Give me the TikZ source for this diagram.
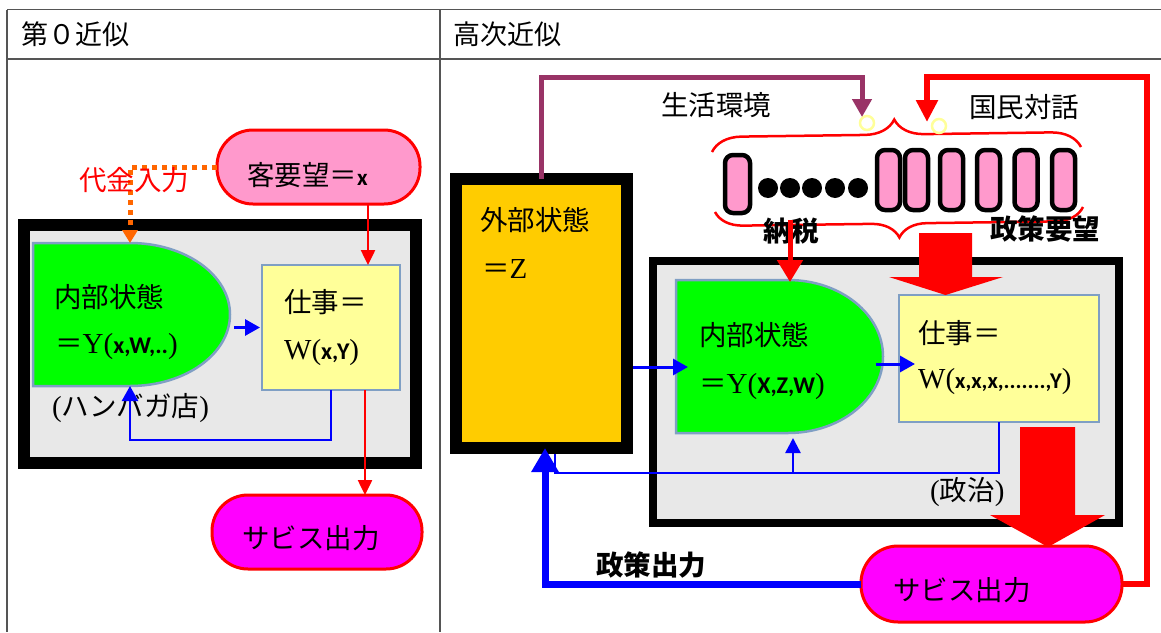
\documentclass[tikz,border=0pt]{standalone}
\usepackage{fontspec}
\setmainfont{Liberation Serif}
\newfontfamily\jp{Noto Sans CJK JP}
\newfontfamily\lser{Liberation Serif}
\newfontfamily\carl{Carlito}
\usetikzlibrary{arrows.meta,decorations.pathreplacing,calc}
\definecolor{fgray}{HTML}{E8E8E8}
\definecolor{ggreen}{HTML}{00FF00}
\definecolor{yel}{HTML}{FFFF99}
\definecolor{ycirc}{HTML}{FFFF99}
\definecolor{sblue}{HTML}{7F9FC4}
\definecolor{pinkc}{HTML}{FF99CC}
\definecolor{magc}{HTML}{FF00FF}
\definecolor{orgc}{HTML}{FFCC00}
\definecolor{orgdot}{HTML}{FF6600}
\definecolor{purp}{HTML}{993366}
\definecolor{bluc}{HTML}{0000FF}
\definecolor{redc}{HTML}{FF0000}
\definecolor{tline}{HTML}{555555}
\newcommand{\ltr}[1]{{\lser\fontsize{29}{32}\selectfont #1}}
\newcommand{\inr}[1]{{\carl\bfseries\fontsize{24}{29}\selectfont #1}}
\begin{document}
\begin{tikzpicture}[x=1pt,y=-1pt,
  txt/.style={font=\jp\fontsize{27.5}{31}\selectfont, inner sep=0pt, anchor=west},
  hdr/.style={font=\jp\fontsize{27}{31}\selectfont, inner sep=0pt, anchor=west},
  bld/.style={font=\jp\bfseries\fontsize{27.5}{31}\selectfont, inner sep=0pt},
  bframe/.style={draw=black, fill=fgray, inner sep=0pt, outer sep=0pt},
  ybox/.style={draw=sblue, fill=yel, line width=2.5pt, inner sep=0pt, outer sep=0pt},
  dbox/.style={inner sep=0pt, outer sep=0pt},
  dshape/.style={fill=ggreen, draw=sblue, line width=2.5pt},
  pill/.style={draw=redc, line width=3pt, inner sep=0pt, outer sep=0pt},
  capsule/.style={draw=black, fill=pinkc, line width=4.5pt, rounded corners=8pt, inner sep=0pt, outer sep=0pt},
  blob/.style={circle, fill=black, inner sep=0pt, minimum size=20pt},
  ring/.style={circle, draw=ycirc, line width=2.5pt, inner sep=0pt, minimum size=14pt},
  bluearr/.style={draw=bluc, line width=3pt, -{Triangle[width=16pt,length=15pt]}},
  bluethin/.style={draw=bluc, line width=2.5pt},
  redthin/.style={draw=redc, line width=2.5pt, -{Triangle[width=14pt,length=15pt]}},
  tablel/.style={draw=tline, line width=1.3pt},
  bracel/.style={draw=redc, line width=2.5pt, decorate}
]
\useasboundingbox (0,0) rectangle (1161,632);
\fill[white] (0,0) rectangle (1161,632);

% ---------- table ----------
\draw[tablel] (7,9.5) -- (1161,9.5);
\draw[tablel] (7,59) -- (1161,59);
\draw[tablel] (7,9.5) -- (7,632);
\draw[tablel] (440,9.5) -- (440,632);
\node[hdr] (h1) at (21,34) {第０近似};
\node[hdr] (h2) at (453,34) {高次近似};

% ================= LEFT PANEL =================
\node[bframe, line width=12pt, minimum width=392pt, minimum height=238pt] (fL) at (220,344) {};
\node[dbox, minimum width=197pt, minimum height=143pt] (gL) at (131.5,314.5) {};
\path[dshape] (33,243) -- (130,243) .. controls (185.2,243) and (230,275) .. (230,314.5)
  .. controls (230,354) and (185.2,386) .. (130,386) -- (33,386) -- cycle;
\node[ybox, minimum width=138pt, minimum height=125pt] (yL) at (331,327.5) {};
\node[pill, fill=pinkc, rounded corners=36pt, minimum width=203pt, minimum height=74pt] (wish) at (318.5,167) {};
\node[pill, fill=magc, rounded corners=36pt, minimum width=210pt, minimum height=74pt] (magL) at (317,532) {};

\node[txt] (gLt1) at (54,297) {内部状態};
\node[txt] (gLt2) at (55,347) {＝\ltr{Y(}\inr{x,W,..}\ltr{)}};
\node[txt] (yLt1) at (284,302) {仕事＝};
\node[txt] (yLt2) at (284,353) {\ltr{W(}\inr{x,Y}\ltr{)}};
\node[txt] (shop) at (52,408) {\ltr{(}ハンバガ店\ltr{)}};
\node[txt] (wisht) at (247,175) {客要望＝{\carl\bfseries\fontsize{23}{27}\selectfont x}};
\node[txt] (magLt) at (242,538) {サビス出力};

% connectors left
\coordinate (ox) at (130,0);
\draw[orgdot, line width=5pt, dash pattern=on 5pt off 5pt, -{Triangle[width=15pt,length=13pt]}]
  (wish.west) -| (gL.north -| ox);
\node[txt, text=redc] (pay) at (79,180) {代金入力};
\coordinate (rx1) at (368,0);
\coordinate (rx2) at (365,0);
\draw[redthin] (wish.south -| rx1) -- (yL.north -| rx1);
\draw[redthin] (yL.south -| rx2) -- (magL.north -| rx2);
\draw[bluearr, shorten >=2pt] ([xshift=4pt]gL.east |- yL.west) -- (yL.west);
\coordinate (fbl) at (0,440);
\draw[bluethin, -{Triangle[width=16pt,length=15pt]}] (yL.south) |- (fbl -| ox) -- (gL.south -| ox);

% ================= RIGHT PANEL =================
\node[bframe, fill=orgc, line width=12pt, minimum width=171pt, minimum height=269pt] (oF) at (541.5,313.5) {};
\node[bframe, line width=8pt, minimum width=466pt, minimum height=262pt] (pF) at (886,392) {};
\node[dbox, minimum width=207pt, minimum height=153pt] (gR) at (779.5,356.5) {};
\path[dshape] (676,280) -- (788,280) .. controls (840.5,280) and (883,314.2) .. (883,356.5)
  .. controls (883,398.8) and (840.5,433) .. (788,433) -- (676,433) -- cycle;
\node[ybox, minimum width=200pt, minimum height=127pt] (yR) at (999,358.5) {};
\node[pill, fill=magc, rounded corners=37pt, minimum width=261pt, minimum height=76pt] (magR) at (991.5,584) {};

\node[txt] (oFt1) at (480,220) {外部状態};
\node[txt] (oFt2) at (482,269) {＝\ltr{Z}};
\node[txt] (gRt1) at (699,335) {内部状態};
\node[txt] (gRt2) at (699,387) {＝\ltr{Y(}\inr{X,Z,W}\ltr{)}};
\node[txt] (yRt1) at (918,333) {仕事＝};
\node[txt] (yRt2) at (918,382) {\ltr{W(}{\carl\bfseries\fontsize{22.5}{28}\selectfont x,x,x,.......,Y}\ltr{)}};
\node[txt] (pol) at (930,492) {\ltr{(}政治\ltr{)}};
\node[txt] (magRt) at (893,590) {サビス出力};
\node[txt] (env) at (661,105) {生活環境};
\node[txt] (dia) at (969,107) {国民対話};

% capsules and dots
\node[capsule, minimum width=25pt, minimum height=58pt] (c1) at (737.5,184) {};
\foreach \i/\x in {1/768,2/790,3/812,4/835,5/858}
  \node[blob] (d\i) at (\x,188) {};
\foreach \i/\x in {2/888.5,3/916.5,4/951.5,5/988.5,6/1026,7/1063.5}
  \node[capsule, minimum width=23pt, minimum height=60pt] (c\i) at (\x,180) {};

% braces
\coordinate (bt1) at (712,152);
\coordinate (bt2) at (1081,147);
\coordinate (bb1) at (1083,207);
\coordinate (bb2) at (715,212);
\draw[bracel, decoration={brace, amplitude=30pt, aspect=0.495}] (bt1) -- (bt2);
\draw[bracel, decoration={brace, amplitude=28pt, aspect=0.5}] (bb1) -- (bb2);

\node[ring] (r1) at (867,123) {};
\node[ring] (r2) at (939,126) {};

\node[bld] (tax) at (791,231) {納税};
\node[bld] (req) at (1045,229) {政策要望};
\node[bld] (pout) at (651,565) {政策出力};

% connectors right
\coordinate (ptop) at (0,77);
\coordinate (ptip) at (862,117);
\draw[purp, line width=5pt, -{Triangle[width=19pt,length=18pt]}]
  (oF.north) -- (oF.north |- ptop) -| (ptip);
\coordinate (rvx) at (1147,0);
\coordinate (rtip) at (927,122);
\draw[redc, line width=6pt, -{Triangle[width=21pt,length=22pt]}]
  (magR.east) -| (rvx |- ptop) -| (rtip);
\coordinate (nz) at (790,220);
\draw[redc, line width=5pt, -{Triangle[width=25pt,length=22pt]}, shorten >=-2pt] (nz) -- (gR.north -| nz);

% block arrows
\fill[redc] (919,233) -- (972,233) -- (972,277) -- (1003,277) -- (945.5,295)
  -- (889,277) -- (919,277) -- cycle;
\fill[redc] (1020,427) -- (1075,427) -- (1075,515) -- (1105,515) -- (1048,547)
  -- (990,515) -- (1020,515) -- cycle;

% blue connectors right
\draw[bluearr, shorten >=-12pt] ([xshift=6pt]oF.east |- 0,367) -- (gR.west |- 0,367);
\draw[bluearr, shorten >=-16pt] ([xshift=-7pt]gR.east |- 0,364) -- (yR.west |- 0,364);
\coordinate (fbr) at (555,473);
\coordinate (fbx) at (793,0);
\draw[bluethin] (yR.south) |- (fbr) -- ([yshift=-6pt]oF.south -| fbr);
\draw[bluethin, -{Triangle[width=15pt,length=15pt]}, shorten >=5pt] (fbr -| fbx) -- (gR.south -| fbx);
\draw[draw=bluc, line width=7pt, -{Triangle[width=26pt,length=24pt]}]
  (magR.west) -| ([xshift=3.5pt]oF.south);
\end{tikzpicture}
\end{document}
